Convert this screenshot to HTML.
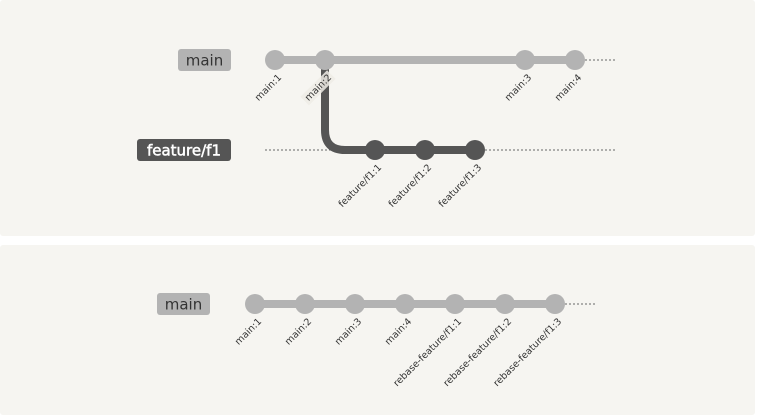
<!DOCTYPE html>
<html><head><meta charset="utf-8"><style>
body{margin:0;background:#fff;}
svg{display:block;font-family:"DejaVu Sans","Liberation Sans",sans-serif;}
</style></head><body>
<svg width="757" height="415">
<rect x="0" y="0" width="755" height="236" rx="3" fill="#f6f5f1"/>
<rect x="0" y="245" width="755" height="170" rx="3" fill="#f6f5f1"/>
<g id="g"></g>
</svg>
<script>
const topMain = ["main:1","main:2","main:3","main:4"];
const topMainPos = [0,1,5,6];
const topFeature = ["feature/f1:1","feature/f1:2","feature/f1:3"];
const topFeaturePos = [2,3,4];
const bottomMain = ["main:1","main:2","main:3","main:4","rebase-feature/f1:1","rebase-feature/f1:2","rebase-feature/f1:3"];
const NS="http://www.w3.org/2000/svg";
const g=document.getElementById('g');
function el(t,a,p){const e=document.createElementNS(NS,t);for(const k in a)e.setAttribute(k,a[k]);(p||g).appendChild(e);return e;}
const xTop=i=>275+i*50, xBot=i=>255+i*50;
function label(x,y,txt,w,fill,tc,bold){
 const r=el('rect',{x:x-w,y:y-11,width:w,height:22,rx:3,fill:fill});
 
 
 const a={x:x-w/2,y:y+5.5,'text-anchor':'middle','font-size':15,fill:tc};
 if(bold){a.stroke=tc;a['stroke-width']=0.5;}
 const t=el('text',a);
 t.textContent=txt;
 
 
}
function commitLabel(x,y,txt,hl){
 const ax=x+7, ay=y+18;
 const grp=el('g',{transform:`rotate(-45 ${ax} ${ay})`});
 if(hl){el('rect',{x:ax-txt.length*5.6-2,y:ay-9,width:txt.length*5.6+4,height:12,fill:'#eeece6',opacity:0.85},grp);}
 const t=el('text',{x:ax,y:ay,'text-anchor':'end','font-size':9.5,fill:'#333'},grp);
 t.textContent=txt;
 
 
}
function dot(x,y,c){
 const d=el('circle',{cx:x,cy:y,r:10,fill:c});
 
 
}
// top panel
const mY=60,fY=150;
el('line',{x1:xTop(topMainPos[topMainPos.length-1])+10,y1:mY,x2:615,y2:mY,stroke:'#666','stroke-dasharray':'2,2','stroke-width':1});
el('line',{x1:265,y1:fY,x2:615,y2:fY,stroke:'#666','stroke-dasharray':'2,2','stroke-width':1});
label(231,mY,'main',53,'#b3b3b3','#333',false);
label(231,fY,'feature/f1',94,'#555','#fff',true);
el('line',{x1:xTop(topMainPos[0]),y1:mY,x2:xTop(topMainPos[topMainPos.length-1]),y2:mY,stroke:'#b3b3b3','stroke-width':8});
const bx=xTop(topMainPos[1]);
el('path',{d:`M${bx} ${mY} V${fY-20} Q${bx} ${fY} ${bx+20} ${fY} H${xTop(topFeaturePos[topFeaturePos.length-1])}`,fill:'none',stroke:'#555','stroke-width':8});
topMain.forEach((n,i)=>{dot(xTop(topMainPos[i]),mY,'#b3b3b3');});
topFeature.forEach((n,i)=>{dot(xTop(topFeaturePos[i]),fY,'#555');});
topMain.forEach((n,i)=>commitLabel(xTop(topMainPos[i]),mY,n,topMainPos[i]===topMainPos[1]));
topFeature.forEach((n,i)=>commitLabel(xTop(topFeaturePos[i]),fY,n,false));
// bottom panel
const bY=304;
el('line',{x1:xBot(bottomMain.length-1)+10,y1:bY,x2:595,y2:bY,stroke:'#666','stroke-dasharray':'2,2','stroke-width':1});
label(210,bY,'main',53,'#b3b3b3','#333',false);
el('line',{x1:xBot(0),y1:bY,x2:xBot(bottomMain.length-1),y2:bY,stroke:'#b3b3b3','stroke-width':8});
bottomMain.forEach((n,i)=>{dot(xBot(i),bY,'#b3b3b3');commitLabel(xBot(i),bY,n,false);});
</script>
</body></html>
